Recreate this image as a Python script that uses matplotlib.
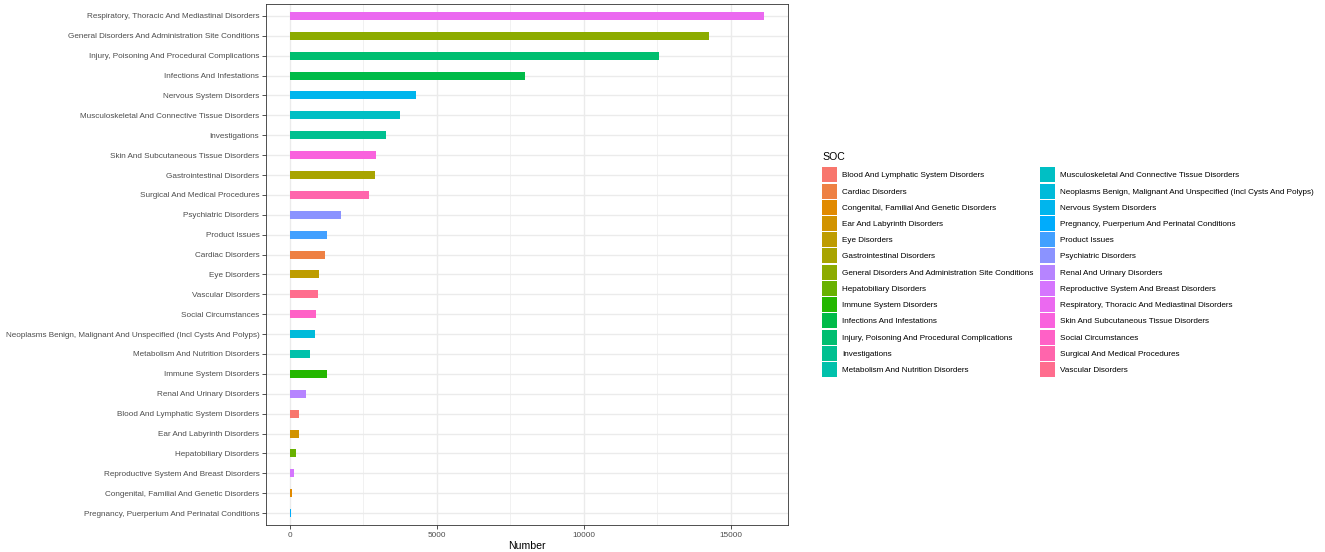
import numpy as np
import matplotlib
matplotlib.use("Agg")
import matplotlib.pyplot as plt
from matplotlib.patches import Patch

# ---- data (top to bottom as displayed) ----
categories = [
    "Respiratory, Thoracic And Mediastinal Disorders",
    "General Disorders And Administration Site Conditions",
    "Injury, Poisoning And Procedural Complications",
    "Infections And Infestations",
    "Nervous System Disorders",
    "Musculoskeletal And Connective Tissue Disorders",
    "Investigations",
    "Skin And Subcutaneous Tissue Disorders",
    "Gastrointestinal Disorders",
    "Surgical And Medical Procedures",
    "Psychiatric Disorders",
    "Product Issues",
    "Cardiac Disorders",
    "Eye Disorders",
    "Vascular Disorders",
    "Social Circumstances",
    "Neoplasms Benign, Malignant And Unspecified (Incl Cysts And Polyps)",
    "Metabolism And Nutrition Disorders",
    "Immune System Disorders",
    "Renal And Urinary Disorders",
    "Blood And Lymphatic System Disorders",
    "Ear And Labyrinth Disorders",
    "Hepatobiliary Disorders",
    "Reproductive System And Breast Disorders",
    "Congenital, Familial And Genetic Disorders",
    "Pregnancy, Puerperium And Perinatal Conditions",
]
values = [16140, 14250, 12565, 8000, 4290, 3745, 3260, 2920, 2900, 2705,
          1745, 1280, 1210, 985, 950, 895, 860, 680, 1270, 565,
          315, 305, 205, 160, 70, 45]
xticks = [0, 5000, 10000, 15000]
x_label = "Number"
legend_title = "SOC"

# ---- ggplot2 hue palette ----
def hcl_to_hex(h, c=100.0, l=65.0):
    Xn, Yn, Zn = 95.047, 100.0, 108.883
    hr = np.deg2rad(h)
    U, V = c * np.cos(hr), c * np.sin(hr)
    Y = Yn * ((l + 16) / 116) ** 3 if l > 8 else Yn * l / 903.3
    den = Xn + 15 * Yn + 3 * Zn
    un, vn = 4 * Xn / den, 9 * Yn / den
    u = U / (13 * l) + un
    v = V / (13 * l) + vn
    X = 9.0 * Y * u / (4 * v)
    Z = -X / 3 - 5 * Y + 3 * Y / v
    X, Y, Z = X / 100, Y / 100, Z / 100
    r = 3.240479 * X - 1.537150 * Y - 0.498535 * Z
    g = -0.969256 * X + 1.875992 * Y + 0.041556 * Z
    b = 0.055648 * X - 0.204043 * Y + 1.057311 * Z
    def gam(t):
        t = 12.92 * t if t <= 0.0031308 else 1.055 * t ** (1 / 2.4) - 0.055
        return min(max(t, 0), 1)
    return "#%02x%02x%02x" % tuple(int(round(gam(t) * 255)) for t in (r, g, b))

levels = sorted(categories)
n = len(levels)
hues = np.linspace(15, 375, n + 1)[:n]
palette = {lev: hcl_to_hex(h % 360) for lev, h in zip(levels, hues)}

plt.rcParams['font.family'] = ['Liberation Sans', 'DejaVu Sans']
FS = 5.87
LFS = 5.88

W, H = 1325, 552
fig = plt.figure(figsize=(W / 100, H / 100), dpi=100)
ax = fig.add_axes([266 / W, 1 - 525 / H, (788 - 266) / W, (525 - 4) / H])

ypos = np.arange(len(categories))[::-1]
ax.barh(ypos, values, height=0.4, color=[palette[c] for c in categories], zorder=3)

vmax = max(values)
ax.set_xlim(-0.05 * vmax, 1.05 * vmax)
ax.set_ylim(-0.6, len(categories) - 1 + 0.6)
ax.set_yticks(ypos)
ax.set_yticklabels(categories)
ax.set_xticks(xticks)
ax.set_xticks([2500, 7500, 12500], minor=True)
ax.tick_params(axis='both', which='major', labelsize=FS, labelcolor='#4D4D4D',
               color='#333333', length=2.8, width=0.6, pad=2)
ax.tick_params(axis='x', which='minor', length=0)
ax.grid(True, which='major', color='#EBEBEB', linewidth=1.0, zorder=0)
ax.grid(True, which='minor', axis='x', color='#EBEBEB', linewidth=0.5, zorder=0)
ax.set_axisbelow(True)
for s in ax.spines.values():
    s.set_color('#333333')
    s.set_linewidth(0.6)
ax.set_xlabel(x_label, fontsize=7.6, labelpad=2)

# legend
fig.text(822 / W, 1 - 157 / H, legend_title, fontsize=7.6, ha='left', va='center')
handles = [Patch(facecolor=palette[l], edgecolor='none') for l in levels]
leg = fig.legend(handles, levels, ncol=2, loc='upper left',
                 bbox_to_anchor=(822 / W, 1 - 167.3 / H), frameon=False,
                 fontsize=LFS,
                 handlelength=1.84, handleheight=2.45, handletextpad=0.6,
                 labelspacing=0.15, columnspacing=0.78, borderaxespad=0,
                 borderpad=0)

fig.savefig("out.png", dpi=100)
